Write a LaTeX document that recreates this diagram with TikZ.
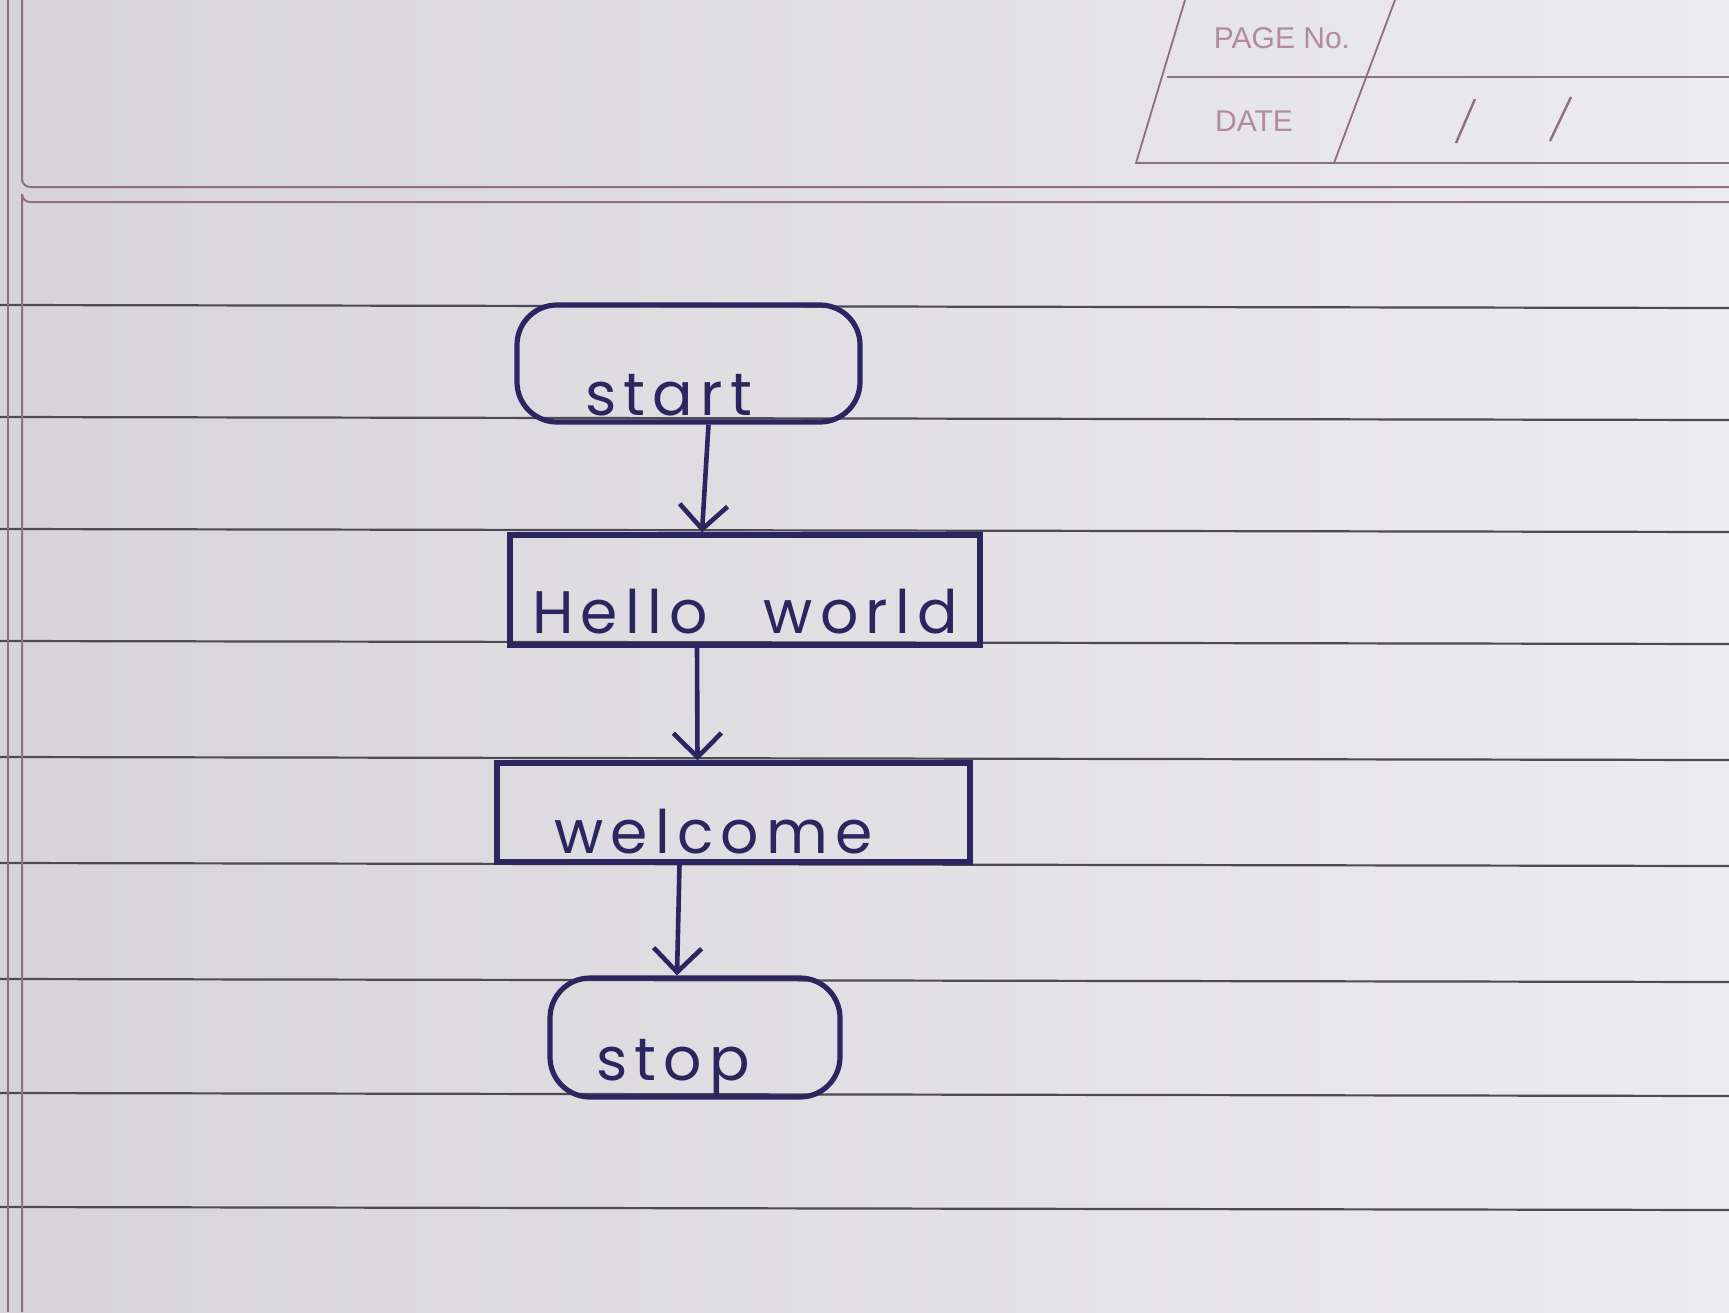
\documentclass[tikz,border=0pt]{standalone}
\usepackage{fontspec}
\setmainfont{Liberation Sans}
\newfontfamily\handfont[LetterSpace=12]{Poppins}
\usetikzlibrary{arrows.meta,calc}
\definecolor{ink}{HTML}{2B2660}
\definecolor{rulec}{HTML}{4E4A52}
\definecolor{marginc}{HTML}{8E6F80}
\definecolor{printc}{HTML}{B28C9E}
\definecolor{paperL}{HTML}{D6D4D8}
\definecolor{paperR}{HTML}{ECEBEE}
\begin{document}
\begin{tikzpicture}[x=0.5pt,y=-0.5pt,
  handtext/.style={font=\handfont\fontsize{30}{36}\selectfont, text=ink},
  terminal/.style={handtext, draw=ink, line width=2.6pt, rounded corners=20pt, inner sep=0pt},
  process/.style={handtext, draw=ink, line width=2.6pt, inner sep=0pt},
  flow/.style={draw=ink, line width=2.3pt, -{Straight Barb[length=12pt,width=24pt]}},
  ruled/.style={draw=rulec, line width=1.1pt},
  marginl/.style={draw=marginc, line width=1pt},
  printed/.style={text=printc, font=\fontsize{15}{18}\selectfont, inner sep=0pt},
  headerl/.style={draw=marginc, line width=0.9pt}]
% paper
\shade[left color=paperL, right color=paperR] (0,0) rectangle (1729,1312);
\useasboundingbox (0,0) rectangle (1729,1312);
% ruled lines
\foreach \yy in {305,417,529,641,757,863,979,1093,1207}
  \draw[ruled] (0,\yy) -- (1729,\yy+3);
% margins
\draw[marginl] (8,0) -- (8,1312);
\draw[marginl] (22,0) -- (22,179) arc[start angle=180, end angle=90, radius=8] -- (1729,187);
\draw[marginl] (1729,202) -- (30,202) arc[start angle=90, end angle=180, radius=8] -- (22,1312);
% header
\draw[headerl] (1185,0) -- (1136,163) -- (1729,163);
\draw[headerl] (1395,0) -- (1334,163);
\draw[headerl] (1167,77) -- (1729,77);
\node[printed] (pageno) at (1282,38) {PAGE No.};
\node[printed] (date) at (1254,121) {DATE};
\coordinate (s1a) at (1475,99);
\coordinate (s1b) at (1456,143);
\coordinate (s2a) at (1571,97);
\coordinate (s2b) at (1550,141);
\draw[marginc, line width=1.2pt] (s1a) -- (s1b);
\draw[marginc, line width=1.2pt] (s2a) -- (s2b);
% flowchart
\node[terminal, minimum width=171.5pt, text height=55pt, text depth=3.5pt] (start) at (688.5,363.5) {start\hspace*{20pt}};
\node[process, minimum width=235pt, text height=49pt, text depth=6pt] (hello) at (745,590) {Hello\hspace{28pt}world};
\node[process, minimum width=236.5pt, text height=45pt, text depth=4.5pt] (welcome) at (733.5,812.5) {welcome\hspace*{20pt}};
\node[terminal, minimum width=145pt, text height=51pt, text depth=8.5pt] (stop) at (695,1037.5) {stop\hspace*{22pt}};
\draw[flow] ([xshift=10pt]start.south) -- ([xshift=-21.5pt]hello.north);
\draw[flow] ([xshift=-24pt]hello.south) -- ([xshift=-18pt]welcome.north);
\draw[flow] ([xshift=-27pt]welcome.south) -- ([xshift=-9pt]stop.north);
\end{tikzpicture}
\end{document}
